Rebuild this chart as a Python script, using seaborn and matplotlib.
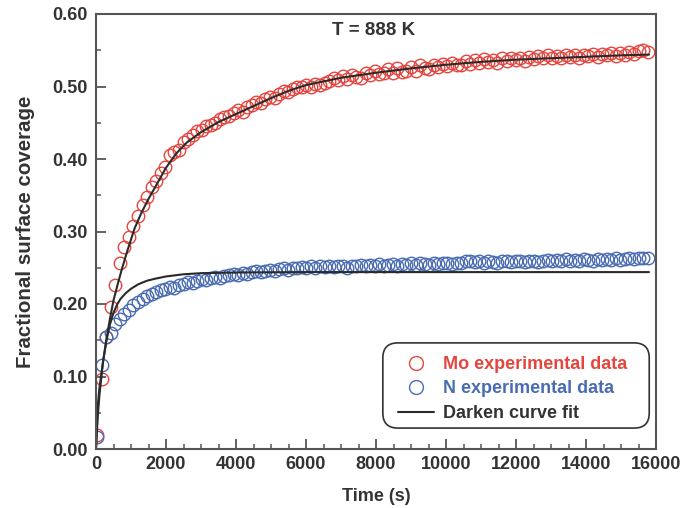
import matplotlib
matplotlib.use("Agg")
import matplotlib.pyplot as plt
import seaborn as sns
import pandas as pd
from matplotlib.ticker import MultipleLocator, FormatStrFormatter
from matplotlib.lines import Line2D
from matplotlib.patches import FancyBboxPatch
from matplotlib.transforms import IdentityTransform

# ---------------- data ----------------
time_s = [30, 160, 290, 420, 550, 680, 810, 940, 1070, 1200,
          1330, 1460, 1590, 1720, 1850, 1980, 2110, 2240, 2370, 2500,
          2630, 2760, 2890, 3020, 3150, 3280, 3410, 3540, 3670, 3800,
          3930, 4060, 4190, 4320, 4450, 4580, 4710, 4840, 4970, 5100,
          5230, 5360, 5490, 5620, 5750, 5880, 6010, 6140, 6270, 6400,
          6530, 6660, 6790, 6920, 7050, 7180, 7310, 7440, 7570, 7700,
          7830, 7960, 8090, 8220, 8350, 8480, 8610, 8740, 8870, 9000,
          9130, 9260, 9390, 9520, 9650, 9780, 9910, 10040, 10170, 10300,
          10430, 10560, 10690, 10820, 10950, 11080, 11210, 11340, 11470, 11600,
          11730, 11860, 11990, 12120, 12250, 12380, 12510, 12640, 12770, 12900,
          13030, 13160, 13290, 13420, 13550, 13680, 13810, 13940, 14070, 14200,
          14330, 14460, 14590, 14720, 14850, 14980, 15110, 15240, 15370, 15500,
          15630, 15760]

mo_data = [0.020, 0.096, 0.155, 0.196, 0.226, 0.256, 0.279, 0.292, 0.308, 0.322,
           0.337, 0.348, 0.362, 0.370, 0.381, 0.389, 0.405, 0.410, 0.413, 0.424,
           0.427, 0.433, 0.438, 0.440, 0.446, 0.447, 0.449, 0.455, 0.458, 0.460,
           0.463, 0.467, 0.465, 0.472, 0.474, 0.479, 0.477, 0.483, 0.486, 0.484,
           0.489, 0.494, 0.492, 0.497, 0.500, 0.499, 0.502, 0.500, 0.503, 0.502,
           0.505, 0.507, 0.512, 0.509, 0.514, 0.510, 0.516, 0.513, 0.512, 0.518,
           0.516, 0.521, 0.517, 0.519, 0.524, 0.519, 0.526, 0.520, 0.522, 0.527,
           0.522, 0.529, 0.526, 0.524, 0.530, 0.527, 0.531, 0.528, 0.533, 0.529,
           0.530, 0.535, 0.531, 0.536, 0.533, 0.538, 0.534, 0.537, 0.533, 0.539,
           0.535, 0.540, 0.536, 0.540, 0.535, 0.541, 0.538, 0.542, 0.539, 0.543,
           0.540, 0.542, 0.539, 0.543, 0.541, 0.544, 0.540, 0.544, 0.542, 0.545,
           0.541, 0.545, 0.543, 0.546, 0.542, 0.546, 0.544, 0.547, 0.545, 0.549,
           0.551, 0.548]

n_data = [0.017, 0.116, 0.155, 0.160, 0.172, 0.180, 0.186, 0.192, 0.198, 0.203,
          0.207, 0.211, 0.214, 0.217, 0.219, 0.221, 0.224, 0.222, 0.226, 0.228,
          0.230, 0.229, 0.232, 0.234, 0.233, 0.236, 0.237, 0.236, 0.239, 0.240,
          0.241, 0.240, 0.243, 0.242, 0.244, 0.245, 0.244, 0.246, 0.247, 0.246,
          0.248, 0.249, 0.247, 0.250, 0.249, 0.251, 0.250, 0.252, 0.250, 0.252,
          0.251, 0.253, 0.251, 0.253, 0.252, 0.250, 0.253, 0.252, 0.254, 0.252,
          0.254, 0.253, 0.255, 0.253, 0.254, 0.255, 0.253, 0.255, 0.254, 0.256,
          0.254, 0.256, 0.255, 0.254, 0.256, 0.255, 0.257, 0.256, 0.255, 0.257,
          0.256, 0.259, 0.260, 0.258, 0.260, 0.257, 0.259, 0.258, 0.257, 0.259,
          0.260, 0.258, 0.260, 0.259, 0.258, 0.260, 0.259, 0.258, 0.260, 0.261,
          0.259, 0.261, 0.260, 0.262, 0.260, 0.261, 0.260, 0.262, 0.261, 0.260,
          0.262, 0.261, 0.262, 0.261, 0.263, 0.261, 0.262, 0.263, 0.262, 0.263,
          0.264, 0.263]

mo_fit_t = [0, 50, 100, 200, 300, 400, 500, 630, 750, 900, 1100, 1300, 1500,
            1700, 2000, 2300, 2600, 3000, 3500, 4000, 4500, 5000, 5500, 6000,
            6600, 7000, 8000, 9000, 10000, 11000, 12000, 13000, 14000, 15000, 15800]
mo_fit = [0.000, 0.045, 0.075, 0.120, 0.152, 0.180, 0.205, 0.229, 0.250, 0.274,
          0.304, 0.326, 0.345, 0.362, 0.388, 0.408, 0.423, 0.437, 0.451, 0.462,
          0.473, 0.484, 0.494, 0.502, 0.508, 0.512, 0.519, 0.525, 0.530, 0.534,
          0.537, 0.539, 0.541, 0.543, 0.544]

n_fit_t = [0, 50, 100, 200, 300, 400, 500, 600, 700, 850, 1000, 1200, 1450,
           1700, 2000, 2500, 3000, 4000, 6000, 15800]
n_fit = [0.000, 0.060, 0.085, 0.120, 0.150, 0.172, 0.188, 0.199, 0.207, 0.215,
         0.221, 0.227, 0.232, 0.235, 0.238, 0.241, 0.2425, 0.2435, 0.244, 0.244]

x_ticks = [0, 2000, 4000, 6000, 8000, 10000, 12000, 14000, 16000]
y_ticks = [0.00, 0.10, 0.20, 0.30, 0.40, 0.50, 0.60]

# ---------------- styling ----------------
sns.set_theme(style="white")
plt.rcParams['font.family'] = ['Liberation Sans', 'DejaVu Sans']
plt.rcParams['font.weight'] = 'bold'
plt.rcParams['xtick.bottom'] = True
plt.rcParams['ytick.left'] = True

RED = '#e4463f'
BLUE = '#4a6cb3'
FIT = '#2a2a2a'
AX = '#555555'
TXT = '#333333'

fig = plt.figure(figsize=(6.93, 5.08), dpi=100)
ax = fig.add_axes([96/693, 59/508, 560/693, 435/508])

df_mo = pd.DataFrame({'t': time_s, 'y': mo_data})
df_n = pd.DataFrame({'t': time_s, 'y': n_data})
df_mofit = pd.DataFrame({'t': mo_fit_t, 'y': mo_fit})
df_nfit = pd.DataFrame({'t': n_fit_t, 'y': n_fit})

sns.lineplot(data=df_mo, x='t', y='y', ax=ax, estimator=None, sort=False,
             linestyle='', marker='o', markersize=9, markerfacecolor='none',
             markeredgecolor=RED, markeredgewidth=1.0, color=RED)
sns.lineplot(data=df_n, x='t', y='y', ax=ax, estimator=None, sort=False,
             linestyle='', marker='o', markersize=9, markerfacecolor='none',
             markeredgecolor=BLUE, markeredgewidth=1.0, color=BLUE)
sns.lineplot(data=df_mofit, x='t', y='y', ax=ax, estimator=None, sort=False,
             color=FIT, linewidth=1.5)
sns.lineplot(data=df_nfit, x='t', y='y', ax=ax, estimator=None, sort=False,
             color=FIT, linewidth=1.5)

ax.set_xlim(0, 16000)
ax.set_ylim(0, 0.60)
ax.set_xticks(x_ticks)
ax.set_yticks(y_ticks)
ax.xaxis.set_minor_locator(MultipleLocator(500))
ax.yaxis.set_minor_locator(MultipleLocator(0.05))
ax.yaxis.set_major_formatter(FormatStrFormatter('%.2f'))
ax.tick_params(which='major', direction='in', length=7, width=1.3, color=AX,
               labelsize=13, labelcolor=TXT, bottom=True, left=True, top=False, right=False)
ax.tick_params(axis='y', which='major', pad=6)
ax.tick_params(axis='x', which='major', pad=5)
ax.tick_params(which='minor', direction='in', length=3.5, width=1.1, color=AX,
               bottom=True, left=True, top=False, right=False)
for lab in ax.get_xticklabels() + ax.get_yticklabels():
    lab.set_fontweight('bold')
for sp in ax.spines.values():
    sp.set_color(AX)
    sp.set_linewidth(1.5)

ax.set_xlabel('Time (s)', fontsize=13, fontweight='bold', color=TXT, labelpad=11)
ax.set_ylabel('Fractional surface coverage', fontsize=14.8, fontweight='bold',
              color=TXT, labelpad=12)

ax.text(0.496, 0.963, 'T = 888 K', transform=ax.transAxes, ha='center', va='center',
        fontsize=13.5, fontweight='bold', color=TXT)

handles = [
    Line2D([], [], linestyle='', marker='o', markersize=10, markerfacecolor='none',
           markeredgecolor=RED, markeredgewidth=1.0),
    Line2D([], [], linestyle='', marker='o', markersize=10, markerfacecolor='none',
           markeredgecolor=BLUE, markeredgewidth=1.0),
    Line2D([], [], color=FIT, linewidth=1.5),
]
labels = ['Mo experimental data', 'N experimental data', 'Darken curve fit']
leg = ax.legend(handles, labels, loc='upper left', bbox_to_anchor=(0.539, 0.214),
                frameon=False, handlelength=2.0,
                handletextpad=0.5, borderpad=0.0, labelspacing=0.42,
                borderaxespad=0.0,
                prop={'weight': 'bold', 'size': 13})
for txt, c in zip(leg.get_texts(), [RED, BLUE, TXT]):
    txt.set_color(c)

# rounded frame around the legend, built from the legend's own extent
fig.canvas.draw()
bb = leg.get_window_extent()
pad_l, pad_r, pad_t, pad_b = 15, 22, 13, 6
frame = FancyBboxPatch((bb.x0 - pad_l, bb.y0 - pad_b),
                       bb.width + pad_l + pad_r, bb.height + pad_t + pad_b,
                       boxstyle='round,pad=0,rounding_size=15',
                       transform=IdentityTransform(), facecolor='none',
                       edgecolor='#333333', linewidth=1.2, zorder=5)
fig.add_artist(frame)

fig.savefig('out.png', dpi=100)
